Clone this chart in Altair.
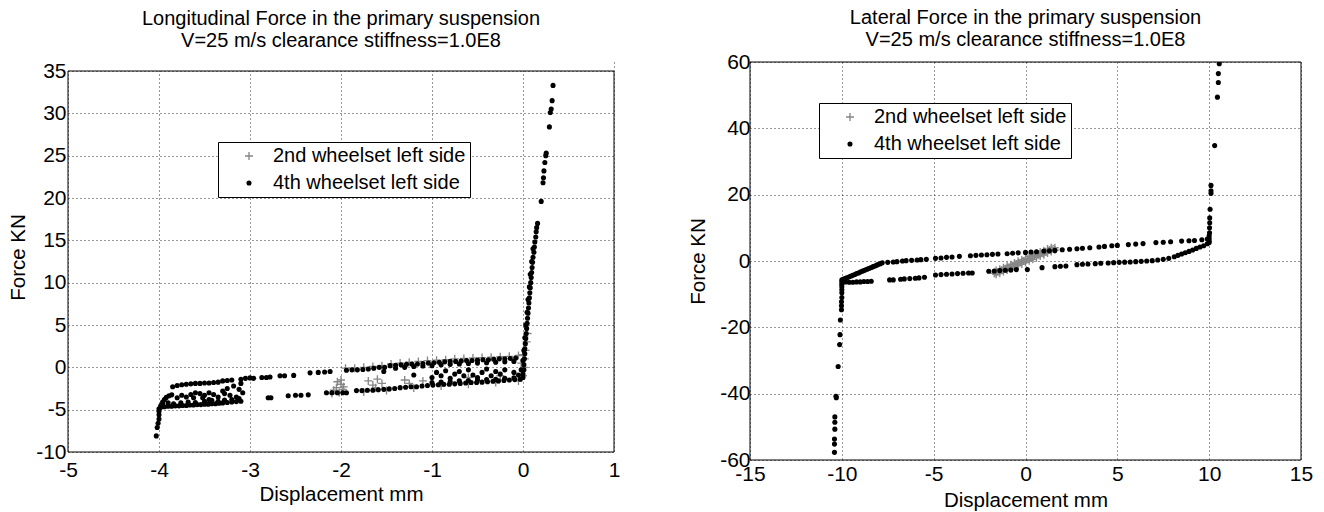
import altair as alt
import pandas as pd

FONT = "Liberation Sans"
S2 = "2nd wheelset left side"
S4 = "4th wheelset left side"
GREY = "#888888"
PLUS = "M-1,-0.17L-0.17,-0.17L-0.17,-1L0.17,-1L0.17,-0.17L1,-0.17L1,0.17L0.17,0.17L0.17,1L-0.17,1L-0.17,0.17L-1,0.17Z"

# ---------------- Longitudinal force (left panel) ----------------
lon_title = ["Longitudinal Force in the primary suspension", "V=25 m/s clearance stiffness=1.0E8"]
lon_xdom = [-5, 1]
lon_ydom = [-10, 35]
lon_xticks = [-5, -4, -3, -2, -1, 0, 1]
lon_yticks = [-10, -5, 0, 5, 10, 15, 20, 25, 30, 35]

lon_4th = [
    (-4.03, -8.1), (-4.02, -7.1), (-4.01, -6.6), (-4.0, -6.1), (-4.0, -5.6), (-4.0, -5.2), (-4.0, -4.9),
    (-3.98, -4.7), (-3.94, -4.65), (-3.9, -4.6), (-3.86, -4.6), (-3.82, -4.55), (-3.78, -4.55), (-3.74, -4.5),
    (-3.7, -4.5), (-3.66, -4.45), (-3.62, -4.45), (-3.58, -4.4), (-3.54, -4.4), (-3.5, -4.35), (-3.46, -4.35),
    (-3.42, -4.3), (-3.38, -4.3), (-3.34, -4.25), (-3.3, -4.2), (-3.25, -4.15), (-3.2, -4.1), (-3.15, -4.05), (-3.1, -4.0),
    (-3.96, -4.3), (-3.9, -4.2), (-3.84, -4.3), (-3.76, -4.2), (-3.68, -4.1), (-3.6, -4.15), (-3.5, -4.0),
    (-3.42, -3.9), (-3.35, -4.0), (-3.28, -3.85), (-3.2, -3.8), (-3.12, -3.7),
    (-3.98, -4.5), (-3.96, -4.1), (-3.94, -3.8), (-3.92, -3.55), (-3.89, -3.35), (-3.86, -3.25),
    (-3.85, -2.3), (-3.8, -2.15), (-3.75, -2.05), (-3.7, -2.0), (-3.65, -1.95), (-3.6, -1.9), (-3.55, -1.9),
    (-3.5, -1.85), (-3.45, -1.85), (-3.4, -1.8), (-3.35, -1.75), (-3.3, -1.6), (-3.25, -1.55), (-3.2, -1.5),
    (-3.1, -1.4), (-3.05, -1.3), (-3.0, -1.25),
    (-3.8, -3.6), (-3.75, -3.3), (-3.7, -3.5), (-3.65, -3.2), (-3.6, -3.0), (-3.55, -3.1), (-3.5, -3.3),
    (-3.45, -3.0), (-3.4, -3.2), (-3.35, -3.5), (-3.3, -2.8), (-3.28, -3.1), (-3.25, -2.5), (-3.22, -3.3),
    (-3.18, -2.2), (-3.15, -3.5), (-3.12, -2.6), (-3.1, -1.9), (-3.08, -3.0), (-3.62, -3.6), (-3.52, -3.6), (-3.45, -3.8),
    (-2.96, -1.3), (-2.87, -1.2), (-2.82, -1.2), (-2.78, -1.15), (-2.67, -1.0), (-2.62, -1.0), (-2.52, -0.95),
    (-2.34, -0.65), (-2.25, -0.6), (-2.18, -0.55), (-2.12, -0.5), (-1.94, -0.35), (-1.88, -0.3), (-1.82, -0.3), (-1.76, -0.25),
    (-2.8, -3.6), (-2.77, -3.6), (-2.58, -3.35), (-2.5, -3.3), (-2.44, -3.3), (-2.36, -3.25), (-2.16, -3.0),
    (-2.1, -3.0), (-2.04, -3.0), (-1.98, -3.0), (-1.94, -3.0),
    (-1.7, -0.2), (-1.64, -0.1), (-1.58, 0.0), (-1.52, 0.0), (-1.46, 0.2), (-1.4, 0.25), (-1.34, 0.3), (-1.28, 0.35),
    (-1.22, 0.4), (-1.16, 0.4), (-1.1, 0.45), (-1.04, 0.5), (-0.98, 0.55), (-0.92, 0.6), (-0.86, 0.65), (-0.8, 0.7),
    (-0.74, 0.7), (-0.68, 0.75), (-0.62, 0.8), (-0.56, 0.8), (-0.5, 0.85), (-0.44, 0.9), (-0.38, 0.9), (-0.32, 0.95),
    (-0.26, 1.0), (-0.2, 1.0), (-0.14, 1.05), (-0.08, 1.1),
    (-1.4, -0.1), (-1.3, 0.0), (-1.2, 0.1), (-1.1, 0.15), (-1.0, 0.2), (-0.9, 0.3), (-0.8, 0.35), (-0.7, 0.4),
    (-0.6, 0.45), (-0.5, 0.5), (-0.4, 0.55), (-0.3, 0.6), (-0.2, 0.65), (-0.1, 0.7),
    (-1.83, -2.75), (-1.77, -2.75), (-1.71, -2.7), (-1.65, -2.7), (-1.59, -2.65), (-1.53, -2.6), (-1.47, -2.55),
    (-1.41, -2.5), (-1.35, -2.4), (-1.29, -2.35), (-1.23, -2.3), (-1.17, -2.3), (-1.11, -2.2), (-1.05, -2.15),
    (-0.99, -2.1), (-0.93, -2.05), (-0.87, -2.0), (-0.81, -2.0), (-0.75, -1.95), (-0.69, -1.9), (-0.63, -1.85),
    (-0.57, -1.8), (-0.51, -1.8), (-0.45, -1.75), (-0.39, -1.7), (-0.33, -1.65), (-0.27, -1.6), (-0.21, -1.55),
    (-0.15, -1.5), (-0.09, -1.45), (-0.03, -1.4),
    (-1.0, -1.8), (-0.9, -1.75), (-0.8, -1.7), (-0.7, -1.6), (-0.6, -1.55), (-0.5, -1.5), (-0.4, -1.45),
    (-0.3, -1.4), (-0.2, -1.3), (-0.1, -1.25),
    (-1.53, -0.5), (-1.2, -0.9), (-1.0, -1.2), (-0.95, -0.6), (-0.9, -1.0), (-0.85, -0.4), (-0.8, -1.3),
    (-0.75, -0.8), (-0.7, -0.5), (-0.65, -1.0), (-0.6, -0.3), (-0.55, -0.9), (-0.5, -1.2), (-0.45, -0.6),
    (-0.4, -0.2), (-0.35, -1.0), (-0.3, -0.5), (-0.25, -0.8), (-0.2, -0.3), (-0.1, -0.6), (-0.05, -0.9), (-0.02, -0.3),
    (0.0, -1.2), (0.0, -0.8), (0.01, -0.3), (0.01, 0.3), (0.015, 1.0), (0.02, 1.6), (0.02, 2.2), (0.025, 2.8),
    (0.03, 3.4), (0.035, 4.0), (0.04, 4.6), (0.045, 5.2), (0.05, 5.8), (0.055, 6.4), (0.06, 7.0), (0.065, 7.6),
    (0.07, 8.2), (0.075, 8.8), (0.08, 9.4), (0.085, 10.0), (0.09, 10.6), (0.095, 11.2), (0.1, 11.8), (0.105, 12.4),
    (0.11, 13.0), (0.12, 13.6), (0.125, 14.2), (0.13, 14.8), (0.14, 15.4), (0.145, 16.0), (0.15, 16.5), (0.16, 17.0),
    (0.0, 0.8), (0.01, 2.0), (0.02, 3.5), (0.03, 5.0), (0.045, 6.5), (0.055, 8.0), (0.07, 9.5), (0.08, 11.0),
    (0.095, 12.5), (0.11, 14.0),
    (0.2, 19.6), (0.22, 21.8), (0.225, 22.4), (0.23, 23.2), (0.24, 24.2), (0.25, 25.0), (0.255, 25.3),
    (0.29, 28.4), (0.3, 30.1), (0.31, 30.5), (0.32, 31.5), (0.33, 33.3),
]

lon_2nd = [
    (-2.1, -3.1), (-2.05, -2.8), (-2.05, -2.4), (-2.0, -2.0), (-2.02, -3.0), (-1.98, -2.6), (-2.08, -2.7),
    (-2.04, -1.7), (-2.0, -1.5), (-1.97, -2.3),
    (-1.95, -0.1), (-1.85, -0.1), (-1.75, 0.0), (-1.65, 0.1), (-1.55, 0.2), (-1.45, 0.4), (-1.35, 0.5),
    (-1.25, 0.6), (-1.15, 0.7), (-1.05, 0.8), (-0.95, 0.85), (-0.85, 0.9), (-0.75, 1.0), (-0.65, 1.05),
    (-0.55, 1.1), (-0.45, 1.15), (-0.35, 1.2), (-0.25, 1.25), (-0.15, 1.3), (-0.05, 1.4),
    (-1.7, -1.6), (-1.65, -2.1), (-1.6, -1.4), (-1.55, -1.9), (-1.62, -2.4), (-1.3, -1.5), (-1.25, -1.9),
    (-1.1, -1.6), (-0.6, -1.2), (-0.25, -1.0),
    (-1.75, -2.9), (-1.5, -2.75), (-1.2, -2.45), (-0.9, -2.2), (-0.6, -2.0), (-0.3, -1.8), (-0.05, -1.6),
    (0.0, -1.0), (0.01, 0.0), (0.02, 1.0), (0.03, 2.0), (0.04, 3.0), (0.05, 4.0), (-0.02, 0.5), (0.0, 1.5),
]

# ---------------- Lateral force (right panel) ----------------
lat_title = ["Lateral Force in the primary suspension", "V=25 m/s clearance stiffness=1.0E8"]
lat_xdom = [-15, 15]
lat_ydom = [-60, 60]
lat_xticks = [-15, -10, -5, 0, 5, 10, 15]
lat_yticks = [-60, -40, -20, 0, 20, 40, 60]

lat_4th = [
    (-10.4, -57.7), (-10.4, -55.2), (-10.4, -53.7), (-10.38, -50.7), (-10.38, -48.6), (-10.38, -47.0),
    (-10.3, -41.2), (-10.32, -40.8), (-10.2, -31.8), (-10.12, -25.2), (-10.1, -22.2), (-10.08, -17.8),
    (-10.02, -14.7), (-10.02, -13.5), (-10.02, -12.3), (-10.0, -11.0), (-10.0, -9.6), (-10.0, -8.7),
    (-10.0, -7.8), (-10.0, -7.0), (-10.0, -6.3), (-10.0, -5.7),
    (-9.9, -5.45), (-9.8, -5.2), (-9.7, -5.0), (-9.6, -4.75), (-9.5, -4.5), (-9.4, -4.3), (-9.3, -4.05),
    (-9.2, -3.8), (-9.1, -3.6), (-9.0, -3.35), (-8.9, -3.1), (-8.8, -2.9), (-8.7, -2.65), (-8.6, -2.4),
    (-8.5, -2.2), (-8.4, -1.95), (-8.3, -1.7), (-8.2, -1.5), (-8.1, -1.25), (-8.0, -1.0), (-7.9, -0.8), (-7.8, -0.55),
    (-7.5, -0.4), (-7.2, -0.3), (-7.0, -0.2), (-6.7, 0.0), (-6.5, 0.1), (-6.2, 0.2), (-5.9, 0.3), (-5.7, 0.4),
    (-5.4, 0.5), (-4.9, 0.8), (-4.6, 0.9), (-4.3, 1.1), (-4.0, 1.2), (-3.6, 1.4), (-3.0, 1.6), (-2.7, 1.7),
    (-2.4, 1.8), (-2.1, 1.9), (-1.8, 2.0), (-1.5, 2.1), (-1.0, 2.2), (-0.7, 2.35), (-0.4, 2.45), (0.0, 2.6),
    (0.3, 2.7), (0.6, 2.8), (1.0, 3.0), (1.3, 3.1), (1.6, 3.2), (2.0, 3.4), (2.4, 3.55), (2.8, 3.7),
    (3.1, 3.85), (3.5, 4.0), (4.0, 4.2), (4.3, 4.4), (4.7, 4.6), (5.0, 4.7), (5.6, 4.95), (6.0, 5.1),
    (6.4, 5.25), (7.1, 5.55), (7.5, 5.65), (7.9, 5.8), (8.5, 6.0), (8.9, 6.1), (9.2, 6.2), (9.6, 6.4), (9.9, 6.6),
    (-9.8, -6.3), (-9.6, -6.4), (-9.4, -6.4), (-9.2, -6.3), (-9.0, -6.3), (-8.8, -6.2), (-8.6, -6.2), (-8.4, -6.1),
    (-7.4, -5.7), (-7.2, -5.7), (-6.8, -5.5), (-6.6, -5.4), (-6.3, -5.3), (-6.0, -5.2), (-5.8, -5.1), (-5.5, -4.9),
    (-4.9, -4.2), (-4.6, -4.1), (-4.3, -4.0), (-4.0, -3.9), (-3.7, -3.8), (-3.4, -3.7), (-3.1, -3.6), (-2.9, -3.6),
    (-2.0, -3.1), (-1.7, -3.0), (-1.4, -2.9), (-1.1, -2.8), (-0.8, -2.7), (-0.5, -2.6), (0.1, -2.6), (0.9, -2.0),
    (1.6, -1.7), (1.9, -1.6), (2.2, -1.5), (2.8, -1.1), (3.1, -1.0), (3.4, -0.9), (3.8, -0.8), (4.1, -0.7),
    (4.5, -0.6), (4.8, -0.5), (5.1, -0.4), (5.4, -0.35), (5.7, -0.3), (6.0, -0.2), (6.3, -0.1), (6.6, 0.0),
    (6.9, 0.1), (7.2, 0.3), (7.5, 0.5), (7.8, 0.8), (8.1, 1.3), (8.3, 1.7), (8.5, 2.1), (8.7, 2.5),
    (8.9, 2.9), (9.1, 3.3), (9.3, 3.8), (9.5, 4.2), (9.7, 4.6), (9.9, 5.2), (10.0, 5.6),
    (10.0, 6.0), (10.0, 6.8), (10.0, 7.6), (10.02, 8.5), (10.02, 10.0), (10.03, 11.5), (10.03, 13.0),
    (10.05, 15.6), (10.1, 20.4), (10.1, 21.2), (10.1, 22.8), (10.3, 34.8), (10.45, 49.4), (10.5, 53.8),
    (10.5, 56.5), (10.55, 59.5),
]

lat_2nd = [
    (-1.7, -3.7), (-1.6, -3.5), (-1.5, -3.3), (-1.4, -3.05), (-1.3, -2.8), (-1.2, -2.55), (-1.1, -2.3),
    (-1.0, -2.1), (-0.9, -1.9), (-0.8, -1.65), (-0.7, -1.4), (-0.6, -1.15), (-0.5, -0.9), (-0.4, -0.7),
    (-0.3, -0.5), (-0.2, -0.25), (-0.1, 0.0), (0.0, 0.25), (0.1, 0.5), (0.2, 0.7), (0.3, 0.9), (0.4, 1.15),
    (0.5, 1.4), (0.6, 1.65), (0.7, 1.9), (0.8, 2.1), (0.9, 2.3), (1.0, 2.55), (1.1, 2.8), (1.2, 3.05),
    (1.3, 3.3), (1.4, 3.5), (1.5, 3.7), (1.6, 4.0),
    (-1.6, -2.9), (-1.4, -2.5), (-1.2, -2.0), (-1.0, -1.5), (-0.8, -1.1), (-0.6, -0.6), (-0.4, -0.1),
    (-0.2, 0.3), (0.0, 0.8), (0.2, 1.3), (0.4, 1.7), (0.6, 2.2), (0.8, 2.7), (1.0, 3.1), (1.2, 3.6), (1.4, 4.0),
    (-1.6, -4.0), (-1.4, -3.7), (-1.2, -3.2), (-1.0, -2.7), (-0.8, -2.3), (-0.6, -1.8), (-0.4, -1.3),
    (-0.2, -0.9), (0.0, -0.4), (0.2, 0.1), (0.4, 0.5), (0.6, 1.0), (0.8, 1.5), (1.0, 1.9), (1.2, 2.4),
    (1.4, 2.9), (1.6, 3.3),
]


def make_df(second, fourth):
    rows = [{"x": x, "y": y, "series": S2, "rank": 0} for x, y in second]
    rows += [{"x": x, "y": y, "series": S4, "rank": 1} for x, y in fourth]
    return pd.DataFrame(rows)


def panel(df, title, title_offset, xdom, xticks, ydom, yticks, w, h, extra_top_px,
          legend_x, legend_y, x_lpad, x_tpad, y_lpad, y_tpad):
    # the scale runs a little above the frame when the panel's frame starts lower than its neighbour
    per_px = (ydom[1] - ydom[0]) / h
    y_scale_top = ydom[1] + extra_top_px * per_px
    full_h = h + extra_top_px

    legend = alt.Legend(
        title=None, orient="none", legendX=legend_x, legendY=legend_y,
        strokeColor="black", fillColor="white", padding=4, rowPadding=7,
        labelFont=FONT, labelFontSize=20, labelColor="black", labelLimit=400,
        symbolOffset=17, labelOffset=14, symbolStrokeWidth=0,
    )
    dom = [S2, S4]
    xs = alt.Scale(domain=xdom, nice=False, zero=False)
    ys = alt.Scale(domain=[ydom[0], y_scale_top], nice=False, zero=False)
    points = alt.Chart(df).mark_point(filled=True, opacity=1, strokeWidth=0, clip=True).encode(
        x=alt.X("x:Q", scale=xs,
                axis=alt.Axis(values=xticks, title="Displacement mm", labelFlush=False,
                              labelPadding=x_lpad, titlePadding=x_tpad, labelExpr="'' + datum.value")),
        y=alt.Y("y:Q", scale=ys,
                axis=alt.Axis(values=yticks, title="Force KN", labelPadding=y_lpad, titlePadding=y_tpad,
                              labelExpr="'' + datum.value")),
        color=alt.Color("series:N", scale=alt.Scale(domain=dom, range=[GREY, "black"]), legend=legend),
        shape=alt.Shape("series:N", scale=alt.Scale(domain=dom, range=[PLUS, "circle"]), legend=legend),
        size=alt.Size("series:N", scale=alt.Scale(domain=dom, range=[64, 26]), legend=legend),
        order=alt.Order("rank:Q"),
    )
    box = pd.DataFrame({"x0": [xdom[0]], "x1": [xdom[1]], "y0": [ydom[0]], "y1": [ydom[1]], "ytop": [y_scale_top]})
    mask = alt.Chart(box).mark_rect(color="white", stroke=None).encode(
        x="x0:Q", x2="x1", y="y1:Q", y2="ytop"
    )
    frame = alt.Chart(box).mark_rect(fillOpacity=0, stroke="black", strokeWidth=1).encode(
        x="x0:Q", x2="x1", y="y0:Q", y2="y1"
    )
    layers = [points, mask, frame] if extra_top_px > 0 else [points, frame]
    return alt.layer(*layers).properties(
        width=w, height=full_h,
        title=alt.TitleParams(text=title, font=FONT, fontSize=20, fontWeight="normal", color="black",
                              anchor="middle", frame="group", offset=title_offset, lineHeight=22),
    )


left = panel(make_df(lon_2nd, lon_4th), lon_title, 9, lon_xdom, lon_xticks, lon_ydom, lon_yticks,
             546, 381, 9, 150, 80, 7, 4, 2, 7)
right = panel(make_df(lat_2nd, lat_4th), lat_title, 1, lat_xdom, lat_xticks, lat_ydom, lat_yticks,
              551, 398, 0, 69, 41, 3, 6, 0, 11)

chart = alt.hconcat(left, right, spacing=68).resolve_scale(
    color="independent", shape="independent", size="independent"
).properties(
    padding={"left": 8, "top": 8, "right": 5, "bottom": 0}, background="white"
).configure_view(
    stroke="transparent", strokeWidth=0
).configure_axis(
    labelFont=FONT, titleFont=FONT, labelFontSize=21, titleFontSize=20.5,
    labelColor="black", titleColor="black", titleFontWeight="normal",
    grid=True, gridColor="#333333", gridDash=[1, 3], gridWidth=1, gridOpacity=1,
    domain=False, ticks=False, tickSize=0,
)

chart.save("out.html", embed_options={"renderer": "svg", "actions": False})
